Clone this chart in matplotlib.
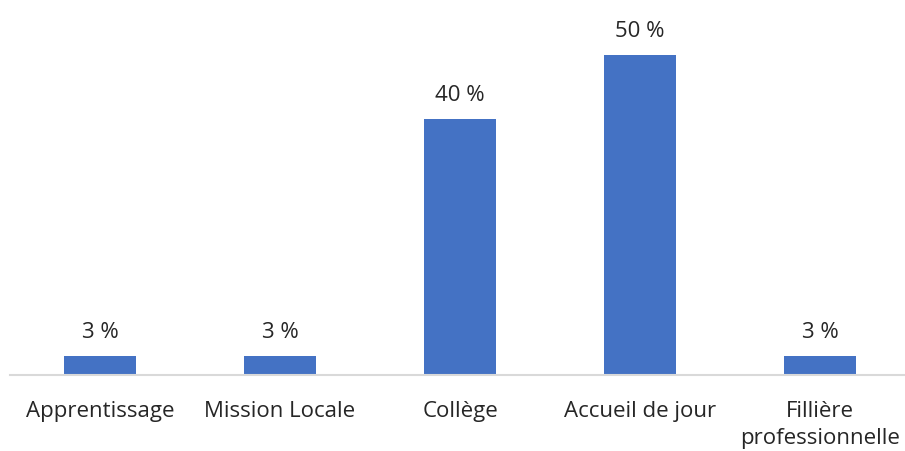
import matplotlib
matplotlib.use('Agg')
import matplotlib.pyplot as plt

categories = ['Apprentissage', 'Mission Locale', 'Collège', 'Accueil de jour', 'Fillière\nprofessionnelle']
values = [3, 3, 40, 50, 3]
value_labels = ['3 %', '3 %', '40 %', '50 %', '3 %']

plt.rcParams['font.family'] = ['Open Sans', 'DejaVu Sans']

fig = plt.figure(figsize=(9.05, 4.52), dpi=100)
ax = fig.add_axes([10 / 905, 1 - 376 / 452, 900 / 905, 352 / 452])

x = range(len(categories))
ax.bar(x, values, width=0.4, color='#4472C4')
ax.set_xlim(-0.5, 4.5)
ax.set_ylim(0, 55)

for xi, v, lab in zip(x, values, value_labels):
    ax.annotate(lab, (xi, v), xytext=(0, 10), textcoords='offset points',
                ha='center', va='bottom', fontsize=16, color='#262626')

ax.set_xticks(list(x))
ax.set_xticklabels(categories, fontsize=16, color='#262626', va='top', linespacing=1.4)
ax.tick_params(axis='x', length=0, pad=18)
ax.set_yticks([])
for s in ['top', 'right', 'left']:
    ax.spines[s].set_visible(False)
ax.spines['bottom'].set_color('#d9d9d9')
ax.spines['bottom'].set_linewidth(1.5)

fig.savefig('out.png', dpi=100)
